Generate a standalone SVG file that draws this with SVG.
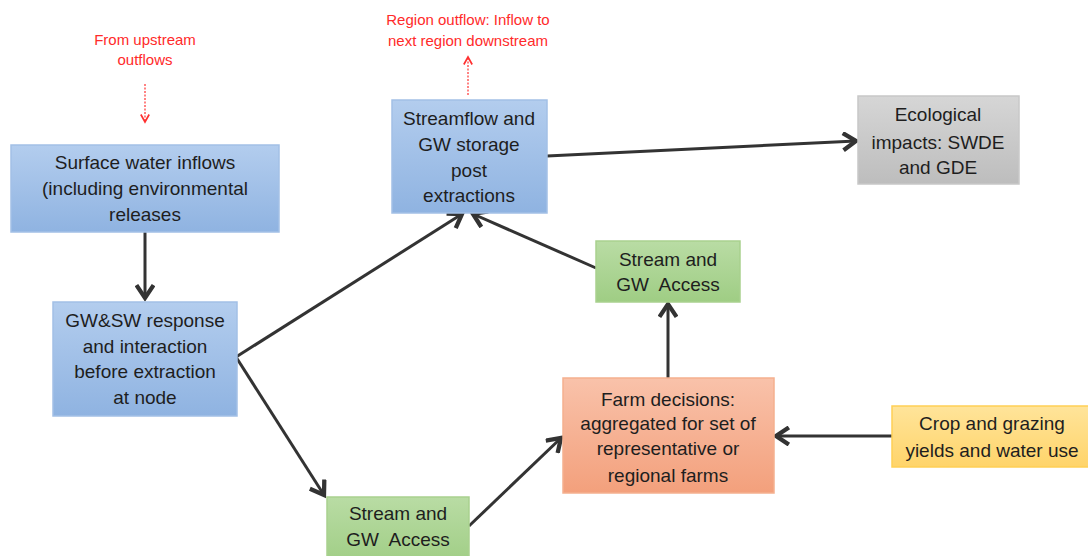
<svg xmlns="http://www.w3.org/2000/svg" width="1088" height="556" viewBox="0 0 1088 556">
<defs>
<linearGradient id="gBlue" x1="0" y1="0" x2="0" y2="1"><stop offset="0" stop-color="#b3cdee"/><stop offset="1" stop-color="#8fb3e1"/></linearGradient>
<linearGradient id="gGray" x1="0" y1="0" x2="0" y2="1"><stop offset="0" stop-color="#d6d6d6"/><stop offset="1" stop-color="#bdbdbd"/></linearGradient>
<linearGradient id="gGreen" x1="0" y1="0" x2="0" y2="1"><stop offset="0" stop-color="#b9dca4"/><stop offset="1" stop-color="#9fcd84"/></linearGradient>
<linearGradient id="gSalmon" x1="0" y1="0" x2="0" y2="1"><stop offset="0" stop-color="#f9c2aa"/><stop offset="1" stop-color="#f3a07c"/></linearGradient>
<linearGradient id="gYellow" x1="0" y1="0" x2="0" y2="1"><stop offset="0" stop-color="#ffe49a"/><stop offset="1" stop-color="#ffd46a"/></linearGradient>
<marker id="arr" markerUnits="userSpaceOnUse" markerWidth="20" markerHeight="20" refX="11" refY="7" orient="auto" viewBox="0 0 14 14">
<path d="M2,1 L11,7 L2,13" fill="none" stroke="#333" stroke-width="3" stroke-linejoin="miter"/>
</marker>
<marker id="arrRed" markerUnits="userSpaceOnUse" markerWidth="10" markerHeight="10" refX="5" refY="3" orient="auto" viewBox="0 0 6 6">
<path d="M0.5,0.5 L5,3 L0.5,5.5" fill="none" stroke="#ff3030" stroke-width="1"/>
</marker>
</defs>
<style>
.t{font-family:"Liberation Sans",Arial,sans-serif;font-size:19px;fill:#1e1e1e;text-anchor:middle;white-space:pre}
.r{font-family:"Liberation Sans",Arial,sans-serif;font-size:15px;fill:#ff2a2a;text-anchor:middle}
.c{fill:none;stroke:#333;stroke-width:3;marker-end:url(#arr)}
.d{fill:none;stroke:#ff3030;stroke-width:1.2;stroke-dasharray:2 1.5;marker-end:url(#arrRed)}
.blue{fill:url(#gBlue);stroke:#a3c0e6;stroke-width:1.5}
.gray{fill:url(#gGray);stroke:#c8c8c8;stroke-width:1.5}
.green{fill:url(#gGreen);stroke:#a9d18e;stroke-width:1.5}
.salmon{fill:url(#gSalmon);stroke:#f5b08f;stroke-width:1.5}
.yellow{fill:url(#gYellow);stroke:#ffcf55;stroke-width:1.5}
</style>
<rect width="1088" height="556" fill="#ffffff"/>
<g id="labels">
<text class="r" x="145" y="45">From upstream</text>
<text class="r" x="145" y="65">outflows</text>
<text class="r" x="468" y="25">Region outflow: Inflow to</text>
<text class="r" x="468" y="46">next region downstream</text>
</g>
<g id="connectors">
<path class="d" d="M145,84 L145,122"/>
<path class="d" d="M468,95 L468,57"/>
<path class="c" d="M145,232 L145,298"/>
<path class="c" d="M236,357 L462,214"/>
<path class="c" d="M236,357 L324,495"/>
<path class="c" d="M469,526 L561,438"/>
<path class="c" d="M668,378 L668,304"/>
<path class="c" d="M596,268 L473,214"/>
<path class="c" d="M547,156 L856,141"/>
<path class="c" d="M892,436 L776,436"/>
</g>
<g id="n1"><rect class="blue" x="11" y="145" width="268" height="87"/>
<text class="t" x="145" y="169">Surface water inflows</text>
<text class="t" x="145" y="195">(including environmental</text>
<text class="t" x="145" y="221">releases</text></g>
<g id="n2"><rect class="blue" x="392" y="100" width="155" height="113"/>
<text class="t" x="469" y="125">Streamflow and</text>
<text class="t" x="469" y="151">GW storage</text>
<text class="t" x="469" y="177">post</text>
<text class="t" x="469" y="202">extractions</text></g>
<g id="n3"><rect class="gray" x="858" y="96" width="161" height="88"/>
<text class="t" x="938" y="121">Ecological</text>
<text class="t" x="938" y="149">impacts: SWDE</text>
<text class="t" x="938" y="174">and GDE</text></g>
<g id="n4"><rect class="blue" x="53" y="302" width="184" height="114"/>
<text class="t" x="145" y="327">GW&amp;SW response</text>
<text class="t" x="145" y="353">and interaction</text>
<text class="t" x="145" y="378">before extraction</text>
<text class="t" x="145" y="404">at node</text></g>
<g id="n5"><rect class="green" x="327" y="497" width="142" height="70"/>
<text class="t" x="398" y="520">Stream and</text>
<text class="t" x="398" y="546">GW  Access</text></g>
<g id="n6"><rect class="green" x="596" y="241" width="144" height="61"/>
<text class="t" x="668" y="266">Stream and</text>
<text class="t" x="668" y="291">GW  Access</text></g>
<g id="n7"><rect class="salmon" x="563" y="378" width="211" height="115"/>
<text class="t" x="668" y="406">Farm decisions:</text>
<text class="t" x="668" y="430">aggregated for set of</text>
<text class="t" x="668" y="455">representative or</text>
<text class="t" x="668" y="482">regional farms</text></g>
<g id="n8"><rect class="yellow" x="892" y="406" width="200" height="61"/>
<text class="t" x="992" y="430">Crop and grazing</text>
<text class="t" x="992" y="457">yields and water use</text></g>
</svg>
